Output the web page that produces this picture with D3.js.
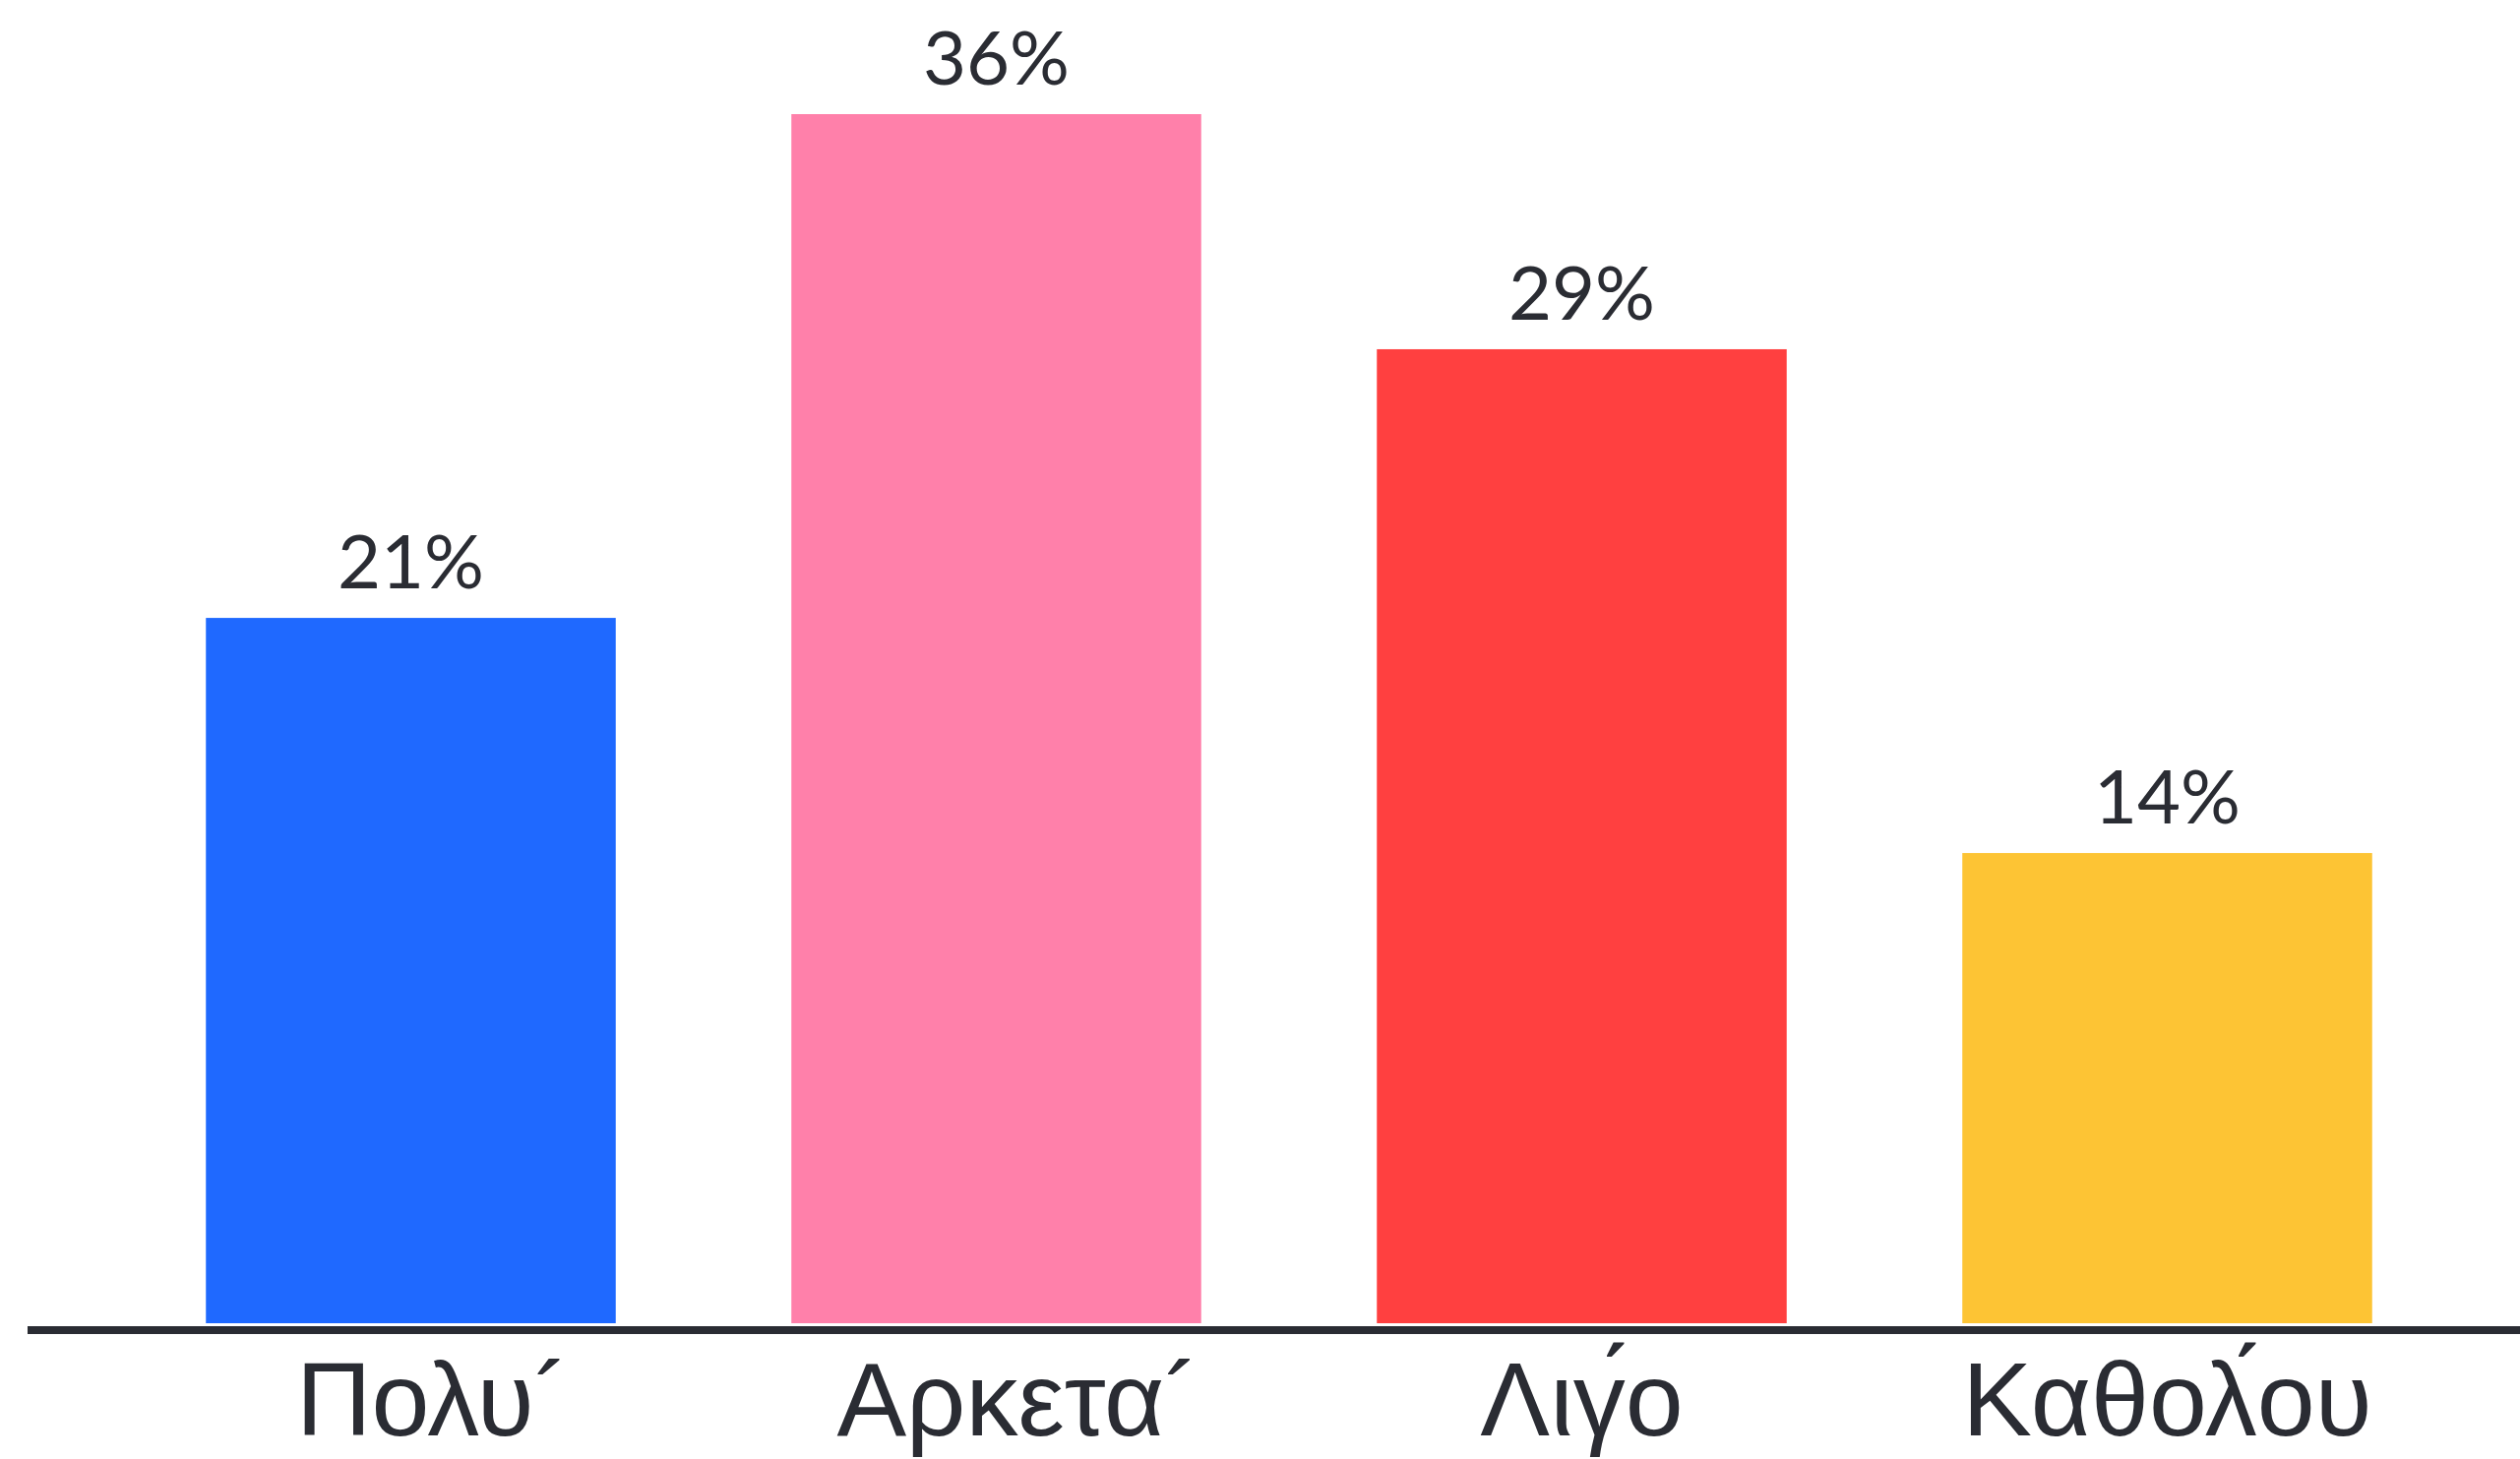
<!DOCTYPE html>
<html>
<head>
<meta charset="utf-8">
<script src="https://cdn.jsdelivr.net/npm/d3@7"></script>
<style>
  html, body { margin: 0; padding: 0; background: #ffffff; }
  svg { display: block; }
</style>
</head>
<body>
<svg id="chart" width="2561" height="1483"></svg>
<script>
// ---- data ----
const categories = ["Πολυ´", "Αρκετα´", "Λιγ\u0301ο", "Καθολ\u0301ου"];
const values = [21, 36, 29, 14];
const colors = ["#1f69ff", "#ff80aa", "#ff4040", "#fdc434"];

// ---- layout ----
const W = 2561, H = 1483;
const baseY = 1345;
const svg = d3.select("#chart");

const x = d3.scaleBand()
  .domain(categories)
  .range([120, 120 + 4 * 595])
  .paddingInner(0.3)
  .paddingOuter(0.15);

const y = d3.scaleLinear()
  .domain([0, 36])
  .range([baseY, 116]);

// bars
svg.append("g").selectAll("rect")
  .data(values)
  .join("rect")
  .attr("x", (d, i) => x(categories[i]))
  .attr("y", d => y(d))
  .attr("width", x.bandwidth())
  .attr("height", d => baseY - y(d))
  .attr("fill", (d, i) => colors[i]);

// value labels
svg.append("g").selectAll("text")
  .data(values)
  .join("text")
  .attr("x", (d, i) => x(categories[i]) + x.bandwidth() / 2)
  .attr("y", d => y(d) - 30)
  .attr("text-anchor", "middle")
  .attr("font-family", "Lato, 'Liberation Sans', sans-serif")
  .attr("font-size", 76)
  .attr("fill", "#2a2c33")
  .text(d => d + "%");

// baseline
svg.append("line")
  .attr("x1", 28).attr("x2", W)
  .attr("y1", 1352).attr("y2", 1352)
  .attr("stroke", "#2a2c33")
  .attr("stroke-width", 8);

// category axis
const axis = d3.axisBottom(x).tickSize(0).tickPadding(0);
const gAxis = svg.append("g")
  .attr("transform", `translate(0,${baseY})`)
  .call(axis);
gAxis.select(".domain").remove();
gAxis.selectAll("text")
  .attr("y", 1459 - baseY)
  .attr("dy", 0)
  .attr("dx", d => d.endsWith("´") ? 22 : 0)
  .attr("font-family", "'Liberation Sans', Arial, sans-serif")
  .attr("font-size", 106)
  .attr("fill", "#2a2c33");
</script>
</body>
</html>
